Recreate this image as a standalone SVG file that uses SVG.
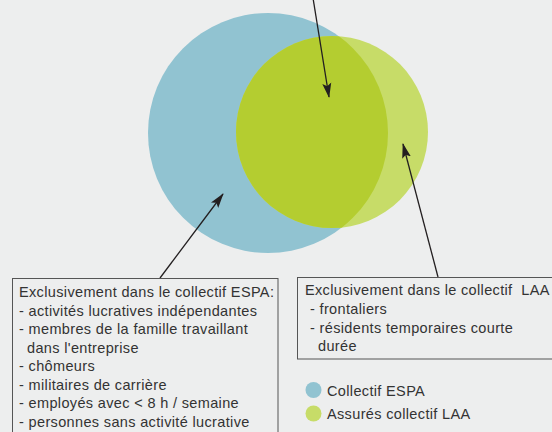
<svg xmlns="http://www.w3.org/2000/svg" width="552" height="432" viewBox="0 0 552 432">
  <style>
    .t { font-family: "Liberation Sans", Arial, Helvetica, sans-serif; font-size: 14.5px; fill: #333333; letter-spacing: 0.35px; }
    .box { fill: none; stroke: #555555; stroke-width: 1; }
    .conn { stroke: #231f20; stroke-width: 1.3; fill: none; marker-end: url(#arrow); }
  </style>
  <defs>
    <marker id="arrow" markerUnits="userSpaceOnUse" markerWidth="15" markerHeight="10" viewBox="0 0 15 10" refX="14" refY="5" orient="auto">
      <path d="M0,0.5 L15,5 L0,9.5 L3,5 z" fill="#231f20"/>
    </marker>
    <clipPath id="clipGreen">
      <circle cx="332" cy="132" r="96"/>
    </clipPath>
  </defs>
  <rect x="0" y="0" width="552" height="432" fill="#edeeee"/>

  <g id="venn">
    <g id="espa-circle">
      <circle cx="268" cy="133" r="120" fill="#91c3d1"/>
    </g>
    <g id="laa-circle">
      <circle cx="332" cy="132" r="96" fill="#c7dc68"/>
    </g>
    <g id="overlap">
      <circle cx="268" cy="133" r="120" fill="#b4cd30" clip-path="url(#clipGreen)"/>
    </g>
  </g>

  <g id="connectors">
    <line class="conn" x1="313" y1="-2" x2="329" y2="97"/>
    <line class="conn" x1="160" y1="278" x2="223" y2="194"/>
    <line class="conn" x1="438" y1="277" x2="403" y2="144"/>
  </g>

  <g id="box-espa">
    <rect class="box" x="12.5" y="278.5" width="265.5" height="170"/>
    <text class="t" x="19" y="297">Exclusivement dans le collectif ESPA:</text>
    <text class="t" x="19" y="315.5">- activités lucratives indépendantes</text>
    <text class="t" x="19" y="334">- membres de la famille travaillant</text>
    <text class="t" x="27" y="352.5">dans l'entreprise</text>
    <text class="t" x="19" y="371">- chômeurs</text>
    <text class="t" x="19" y="389.5">- militaires de carrière</text>
    <text class="t" x="19" y="408">- employés avec &lt; 8 h / semaine</text>
    <text class="t" x="19" y="426.5">- personnes sans activité lucrative</text>
  </g>

  <g id="box-laa">
    <rect class="box" x="297.5" y="277.5" width="270" height="81.5"/>
    <text class="t" x="305" y="295" xml:space="preserve">Exclusivement dans le collectif  LAA</text>
    <text class="t" x="310" y="314">- frontaliers</text>
    <text class="t" x="310" y="332.5">- résidents temporaires courte</text>
    <text class="t" x="318" y="350.5">durée</text>
  </g>

  <g id="legend">
    <circle cx="313.5" cy="390" r="8" fill="#91c3d1"/>
    <text class="t" x="327" y="395.5">Collectif ESPA</text>
    <circle cx="313.5" cy="413.5" r="8" fill="#c7dc68"/>
    <text class="t" x="327" y="419">Assurés collectif LAA</text>
  </g>
</svg>
